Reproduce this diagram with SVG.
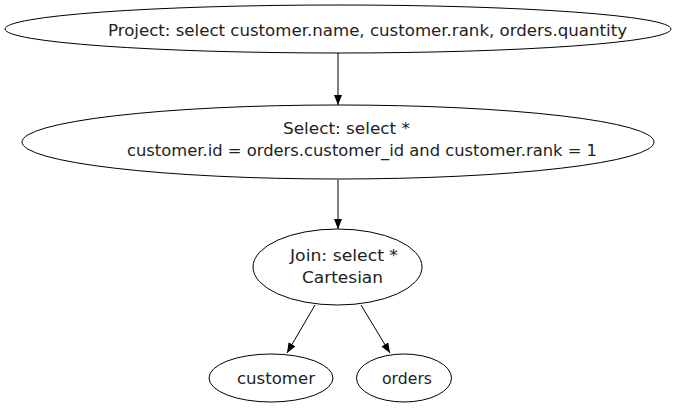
<svg xmlns="http://www.w3.org/2000/svg" width="676" height="408" viewBox="0 0 676 408">
<style>
.n ellipse{fill:none;stroke:#000;stroke-width:1}
text{font-family:"DejaVu Sans","Liberation Sans",sans-serif;font-size:16px;fill:#222;text-anchor:middle}
.e{stroke:#000;stroke-width:1;fill:none;marker-end:url(#ah)}
</style>
<defs>
<marker id="ah" markerWidth="10" markerHeight="8" refX="10" refY="4" orient="auto" markerUnits="userSpaceOnUse">
<path d="M0,0 L10,4 L0,8 Z" fill="#000"/>
</marker>
</defs>
<rect width="676" height="408" fill="#fff"/>
<g id="edges">
<line class="e" x1="338" y1="53" x2="338" y2="105"/>
<line class="e" x1="338" y1="180" x2="338" y2="229"/>
<line class="e" x1="315" y1="305" x2="287" y2="353"/>
<line class="e" x1="361" y1="305" x2="390" y2="353"/>
</g>
<g id="project" class="n">
<ellipse cx="338" cy="29" rx="333" ry="24"/>
<text x="367.5" y="36" textLength="519" lengthAdjust="spacingAndGlyphs">Project: select customer.name, customer.rank, orders.quantity</text>
</g>
<g id="select" class="n">
<ellipse cx="338" cy="142" rx="316" ry="37"/>
<text x="346.5" y="134" textLength="127" lengthAdjust="spacingAndGlyphs">Select: select *</text>
<text x="362" y="156" textLength="470" lengthAdjust="spacingAndGlyphs">customer.id = orders.customer_id and customer.rank = 1</text>
</g>
<g id="join" class="n">
<ellipse cx="337.5" cy="267" rx="84.5" ry="38"/>
<text x="344" y="261" textLength="108" lengthAdjust="spacingAndGlyphs">Join: select *</text>
<text x="342.5" y="283" textLength="81" lengthAdjust="spacingAndGlyphs">Cartesian</text>
</g>
<g id="customer" class="n">
<ellipse cx="271" cy="378" rx="62" ry="24"/>
<text x="276" y="384" textLength="78" lengthAdjust="spacingAndGlyphs">customer</text>
</g>
<g id="orders" class="n">
<ellipse cx="404" cy="378" rx="47.5" ry="24"/>
<text x="407" y="384" textLength="50" lengthAdjust="spacingAndGlyphs">orders</text>
</g>
</svg>
